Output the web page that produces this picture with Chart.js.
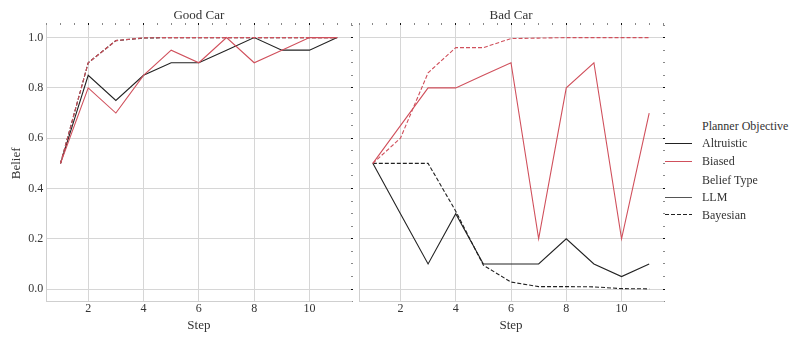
<!DOCTYPE html>
<html>
<head>
<meta charset="utf-8">
<script src="https://cdn.jsdelivr.net/npm/chart.js@4"></script>
<style>
  body { margin: 0; background: #fff; width: 791px; height: 337px; overflow: hidden; position: relative; font-family: "Liberation Serif", serif; }
  #goodWrap { position: absolute; left: 0; top: 0; }
  #badWrap { position: absolute; left: 355px; top: 0; }
  .lg-text { position: absolute; left: 702px; font-size: 12px; color: #333; line-height: 14px; white-space: nowrap; }
  .lg-key { position: absolute; left: 665px; width: 27px; height: 1px; }
</style>
</head>
<body>
<div id="goodWrap"><canvas id="goodChart" width="354" height="337"></canvas></div>
<div id="badWrap"><canvas id="badChart" width="311" height="337"></canvas></div>

<div class="lg-text" style="top:119px">Planner Objective</div>
<div class="lg-key" style="top:143px; background:#222"></div>
<div class="lg-text" style="top:136px">Altruistic</div>
<div class="lg-key" style="top:161px; background:#d0505c"></div>
<div class="lg-text" style="top:154px">Biased</div>
<div class="lg-text" style="top:173px">Belief Type</div>
<div class="lg-key" style="top:197px; background:#555"></div>
<div class="lg-text" style="top:190px">LLM</div>
<div class="lg-key" style="top:214px; background:repeating-linear-gradient(to right, #222 0 4px, transparent 4px 6px)"></div>
<div class="lg-text" style="top:208px">Bayesian</div>

<script>
// Data
const steps = [1, 2, 3, 4, 5, 6, 7, 8, 9, 10, 11];

// Good Car
const goodAltruisticLLM   = [0.5, 0.85, 0.75, 0.85, 0.9, 0.9, 0.95, 1.0, 0.95, 0.95, 1.0];
const goodBiasedLLM       = [0.5, 0.8, 0.7, 0.85, 0.95, 0.9, 1.0, 0.9, 0.95, 1.0, 1.0];
const goodAltruisticBayes = [0.5, 0.9, 0.988, 0.998, 1.0, 1.0, 1.0, 1.0, 1.0, 1.0, 1.0];
const goodBiasedBayes     = [0.5, 0.9, 0.988, 0.999, 1.0, 1.0, 1.0, 1.0, 1.0, 1.0, 1.0];

// Bad Car
const badAltruisticLLM   = [0.5, 0.3, 0.1, 0.3, 0.1, 0.1, 0.1, 0.2, 0.1, 0.05, 0.1];
const badBiasedLLM       = [0.5, 0.65, 0.8, 0.8, 0.85, 0.9, 0.2, 0.8, 0.9, 0.2, 0.7];
const badAltruisticBayes = [0.5, 0.5, 0.5, 0.31, 0.095, 0.028, 0.01, 0.01, 0.009, 0.002, 0.001];
const badBiasedBayes     = [0.5, 0.6, 0.86, 0.96, 0.96, 0.996, 0.998, 1.0, 1.0, 1.0, 1.0];

const BLACK = '#222222';
const RED = '#d0505c';
const SERIF = '"Liberation Serif", "Times New Roman", serif';

function toPoints(values) {
    return values.map((v, i) => ({ x: steps[i], y: v }));
}

function line(values, color, dashed) {
    return {
        data: toPoints(values),
        borderColor: color,
        borderWidth: 1.1,
        borderDash: dashed ? [4, 2] : [],
        pointRadius: 0,
        tension: 0,
        fill: false
    };
}

function isMajor(v, step) {
    const r = v / step;
    return Math.abs(r - Math.round(r)) < 1e-6;
}

function makeScales(title, showY, yWidth) {
    return {
        x: {
            type: 'linear', position: 'bottom', min: 0.5, max: 11.5,
            ticks: { stepSize: 2, includeBounds: false, color: '#333', font: { family: SERIF, size: 12 }, padding: 0 },
            grid: { color: '#d6d6d6', drawTicks: false },
            border: { color: '#cfcfcf' },
            title: { display: true, text: 'Step', color: '#333', font: { family: SERIF, size: 13 }, padding: { top: 0, bottom: 4 } },
            afterFit: s => { s.height = 35.3; }
        },
        x2: {
            type: 'linear', position: 'top', min: 0.5, max: 11.5,
            ticks: { display: false, stepSize: 0.5, includeBounds: false },
            grid: {
                drawOnChartArea: false, drawTicks: true, tickLength: 2,
                tickColor: c => isMajor(c.tick.value, 2) ? '#111' : '#888'
            },
            border: { display: false },
            title: { display: true, text: title, color: '#333', font: { family: SERIF, size: 13 }, padding: { top: 8, bottom: 0 } },
            afterFit: s => { s.height = 25; }
        },
        y: {
            type: 'linear', position: 'left', min: -0.05, max: 1.05,
            ticks: {
                display: showY, stepSize: 0.2, includeBounds: false, color: '#333',
                font: { family: SERIF, size: 12 }, padding: 3.5,
                callback: v => v.toFixed(1)
            },
            grid: { color: '#d6d6d6', drawTicks: false },
            border: { color: '#cfcfcf' },
            title: { display: showY, text: 'Belief', color: '#333', font: { family: SERIF, size: 13 }, padding: { top: 9 } },
            afterFit: s => { s.width = yWidth; }
        },
        y2: {
            type: 'linear', position: 'right', min: -0.05, max: 1.05,
            ticks: { display: false, stepSize: 0.05, includeBounds: false },
            grid: {
                drawOnChartArea: false, drawTicks: true, tickLength: 2,
                tickColor: c => isMajor(c.tick.value, 0.2) ? '#111' : '#888'
            },
            border: { display: false },
            afterFit: s => { s.width = 3; }
        }
    };
}

function makePanel(id, title, altLLM, biasLLM, altBayes, biasBayes, showY, yWidth) {
    // Chart.js paints the first dataset last, so the red series go first to sit on top
    new Chart(document.getElementById(id), {
        type: 'line',
        data: {
            datasets: [
                line(biasBayes, RED, true),
                line(biasLLM, RED, false),
                line(altBayes, BLACK, true),
                line(altLLM, BLACK, false)
            ]
        },
        options: {
            responsive: false,
            animation: false,
            devicePixelRatio: 1,
            layout: { padding: 0 },
            plugins: { legend: { display: false }, tooltip: { enabled: false } },
            scales: makeScales(title, showY, yWidth)
        }
    });
}

makePanel('goodChart', 'Good Car', goodAltruisticLLM, goodBiasedLLM, goodAltruisticBayes, goodBiasedBayes, true, 46.7);
makePanel('badChart', 'Bad Car', badAltruisticLLM, badBiasedLLM, badAltruisticBayes, badBiasedBayes, false, 4);
</script>
</body>
</html>
